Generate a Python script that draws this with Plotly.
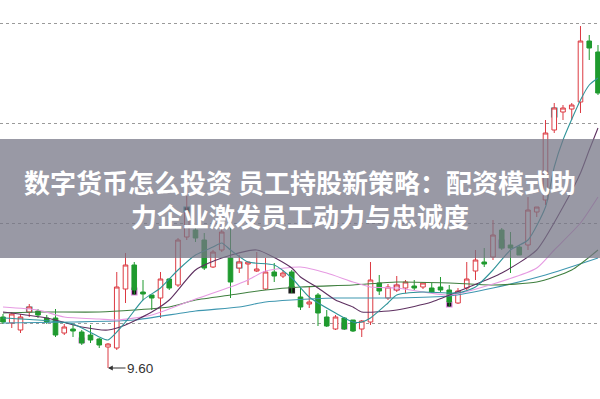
import plotly.graph_objects as go

idx = list(range(69))
opens  = [10.11,10.05,9.98,10.16,10.17,10.10,10.10,9.95,9.99,9.96,9.93,9.89,9.81,9.80,10.39,10.63,10.36,10.33,10.30,10.49,
          10.43,10.91,10.98,10.88,10.61,10.78,10.70,10.60,10.64,10.57,10.39,10.56,10.52,10.56,10.31,10.24,10.33,10.11,9.99,10.10,
          10.08,9.99,10.06,10.45,10.30,10.38,10.40,10.42,10.41,10.40,10.41,10.38,10.25,10.40,10.57,10.66,10.71,10.98,10.83,10.81,
          10.83,11.16,11.28,11.98,12.16,12.19,12.26,12.87,12.76]
closes = [10.06,10.14,10.11,10.21,10.13,10.06,9.93,10.01,9.97,9.85,9.88,9.83,9.84,10.41,10.63,10.38,10.34,10.30,10.49,10.40,
          10.88,11.16,10.90,10.60,10.76,10.96,10.46,10.66,10.66,10.59,10.56,10.52,10.55,10.41,10.21,10.26,10.15,10.02,10.11,9.99,
          9.97,10.07,10.48,10.37,10.41,10.43,10.46,10.40,10.45,10.36,10.38,10.26,10.37,10.49,10.68,10.64,10.93,10.80,10.80,10.73,
          11.18,11.21,11.95,12.20,12.20,12.23,12.87,12.80,12.35]
highs  = [10.14,10.16,10.14,10.24,10.19,10.13,10.19,10.04,10.04,9.98,10.03,9.90,9.85,10.56,10.75,10.66,10.48,10.33,10.56,10.50,
          10.90,11.32,11.03,10.95,10.78,11.05,11.00,10.73,10.66,10.76,10.70,10.65,10.58,10.58,10.41,10.41,10.35,10.18,10.13,10.11,
          10.08,10.08,10.66,10.53,10.44,10.52,10.48,10.48,10.46,10.45,10.51,10.43,10.40,10.66,10.78,10.80,11.08,11.00,10.96,10.83,
          11.31,11.21,12.08,12.25,12.23,12.25,13.02,12.93,12.83]
lows   = [10.04,10.00,9.95,10.11,10.10,10.04,9.91,9.93,9.91,9.83,9.85,9.80,9.60,9.78,10.25,10.33,10.28,10.18,10.10,10.38,
          10.41,10.88,10.86,10.58,10.60,10.76,10.30,10.55,10.43,10.56,10.38,10.46,10.50,10.35,10.18,10.20,10.02,10.01,9.98,9.98,
          9.96,9.91,10.03,10.33,10.28,10.36,10.35,10.38,10.39,10.35,10.36,10.21,10.24,10.38,10.48,10.61,10.68,10.78,10.55,10.73,
          10.78,11.11,11.23,11.95,12.08,12.08,12.15,12.68,12.33]

# special marker boxes (index, top price, bottom price, edge colour)
spec_idx = [3, 9, 15, 21, 27, 33, 39, 45, 51, 57, 63]
spec_top = [10.21, 9.90, 10.40, 11.21, 10.66, 10.41, 10.05, 10.43, 10.26, 10.88, 12.20]
spec_bot = [10.16, 9.85, 10.33, 11.16, 10.60, 10.35, 9.99, 10.38, 10.21, 10.80, 12.11]
spec_edge = ["#3aa0a8", "#e08ae0", "#e08ae0", "#3aa0a8", "#3aa0a8", "#222222", "#e08ae0",
             "#b070c0", "#e08ae0", "#b070c0", "#3aa0a8"]

# moving averages (index, price)
ma5_x = [0,4,8,11,12,14,16,18,20,22,24,25,26,28,31,33,35,38,40,41,42,44,45,48,52,54,56,58,60,62,63,64,66,67,68]
ma5_y = [10.10,10.08,10.04,9.91,9.88,10.06,10.28,10.40,10.58,10.73,10.81,10.85,10.78,10.66,10.63,10.50,10.31,10.15,
         10.06,10.06,10.10,10.25,10.33,10.36,10.35,10.41,10.58,10.78,10.88,11.21,11.61,11.88,12.28,12.43,12.50]
ma10_x = [0,5,9,12,14,17,19,22,25,29,33,34,36,38,40,41,45,49,53,57,61,64,66,67,68]
ma10_y = [10.16,10.10,10.01,9.98,10.03,10.16,10.28,10.58,10.70,10.78,10.60,10.51,10.40,10.28,10.21,10.16,10.18,
          10.26,10.40,10.55,10.78,11.21,11.55,11.78,12.00]
ma20_x = [0,4,7,11,13,17,22,26,28,30,34,37,40,42,45,51,56,61,63,66,68]
ma20_y = [10.21,10.18,10.11,10.09,10.08,10.13,10.29,10.41,10.48,10.57,10.61,10.55,10.46,10.41,10.40,10.33,
          10.44,10.60,10.78,11.05,11.31]
ma30_x = [0,4,11,15,19,22,26,30,34,40,45,51,56,61,65,68]
ma30_y = [10.15,10.16,10.16,10.18,10.21,10.28,10.33,10.38,10.41,10.43,10.46,10.45,10.43,10.46,10.58,10.78]
ma60_x = [0,8,15,22,27,30,33,38,45,51,56,62,68]
ma60_y = [10.05,10.06,10.08,10.17,10.21,10.26,10.28,10.30,10.30,10.32,10.40,10.53,10.70]

grid_vals = [10.05, 11.05, 12.05, 13.05]
low_label = "9.60"
title_lines = ["数字货币怎么投资 员工持股新策略：配资模式助", "力企业激发员工动力与忠诚度"]

fig = go.Figure()

ma_specs = [(ma60_x, ma60_y, "#3f97b0"), (ma30_x, ma30_y, "#3f7f3f"), (ma20_x, ma20_y, "#e69ae2"),
            (ma10_x, ma10_y, "#5e3060"), (ma5_x, ma5_y, "#2f9499")]
for xs, ys, col in ma_specs:
    fig.add_trace(go.Scatter(x=xs, y=ys, mode="lines", line=dict(color=col, width=1.1, shape="spline", smoothing=0.6),
                             hoverinfo="skip", showlegend=False))

fig.add_trace(go.Candlestick(
    x=idx, open=opens, high=highs, low=lows, close=closes,
    increasing=dict(line=dict(color="#dc3a42", width=1), fillcolor="#ffffff"),
    decreasing=dict(line=dict(color="#1f9a2e", width=1), fillcolor="#1f9a2e"),
    showlegend=False, whiskerwidth=0))

fig.add_trace(go.Bar(x=spec_idx, y=[t - b for t, b in zip(spec_top, spec_bot)], base=spec_bot, width=0.62,
                     marker=dict(color="#111111", line=dict(color=spec_edge, width=1.2)),
                     showlegend=False, hoverinfo="skip"))

fig.update_layout(
    width=600, height=399, margin=dict(l=0, r=0, t=0, b=0),
    paper_bgcolor="white", plot_bgcolor="white", barmode="overlay", boxgap=0.25,
    xaxis=dict(range=[-0.343, 68.23], visible=False, rangeslider=dict(visible=False), fixedrange=True),
    yaxis=dict(range=[9.29, 13.28], tickvals=grid_vals, showticklabels=False, showgrid=True,
               gridcolor="#9a9a9a", griddash="dot", gridwidth=1, zeroline=False, showline=False),
    showlegend=False,
    shapes=[dict(type="rect", xref="paper", yref="paper", x0=0, x1=1, y0=141/399, y1=260/399,
                 fillcolor="rgba(118,118,134,0.74)", line=dict(width=0), layer="above")],
    annotations=[
        dict(x=0.5, y=0.502, xref="paper", yref="paper", text="<br>".join(title_lines), showarrow=False,
             align="center", yanchor="middle",
             font=dict(family="Noto Sans CJK SC", size=26, color="white", weight="bold")),
        dict(x=12, y=9.60, xref="x", yref="y", text=low_label, showarrow=True, ax=32, ay=0,
             arrowhead=2, arrowsize=0.8, arrowwidth=1.2, arrowcolor="#333333", standoff=0,
             font=dict(family="Liberation Sans", size=13.5, color="#333333")),
    ],
)

fig.write_html("out.html")
